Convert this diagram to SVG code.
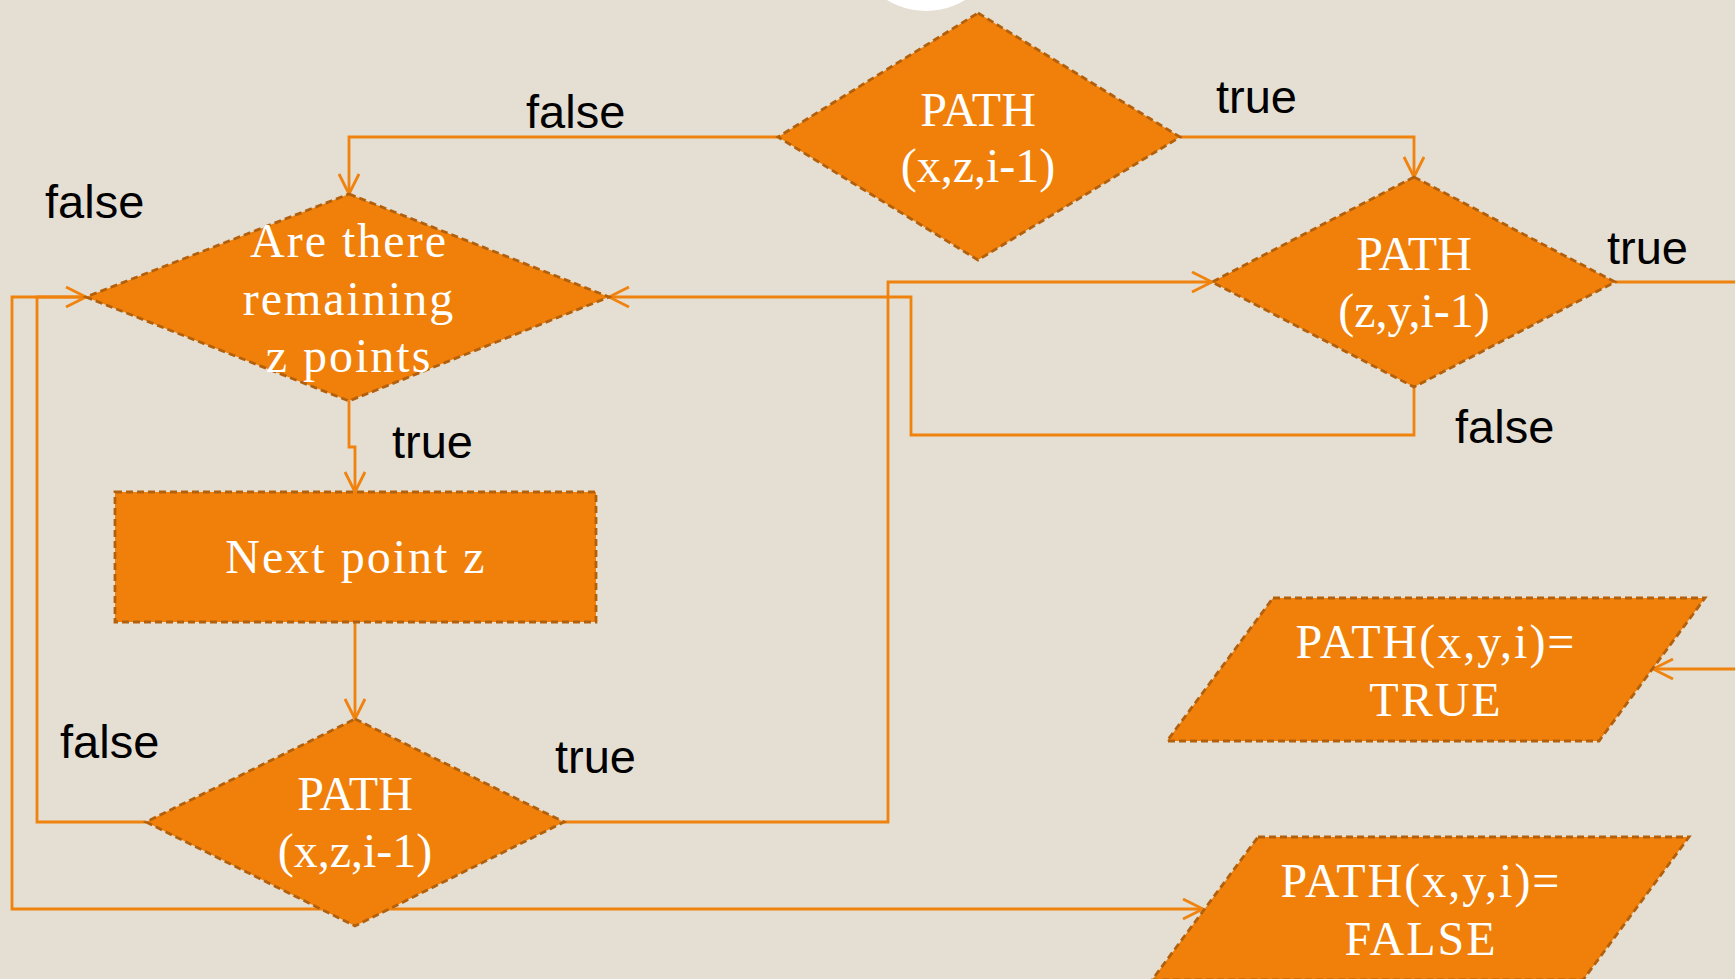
<svg xmlns="http://www.w3.org/2000/svg" width="1735" height="979" viewBox="0 0 1735 979">
<style>
.bg{fill:#E4DED3}
.shape{fill:#F0800A;stroke:#B3600C;stroke-width:2.8;stroke-dasharray:7 4}
.nt{font-family:"Liberation Serif","Times New Roman",serif;font-size:48px;fill:#FFFFFF;text-anchor:middle}
.wide{letter-spacing:2px}
.lbl{font-family:"Liberation Sans",Arial,sans-serif;font-size:47px;fill:#000000}
.edge{fill:none;stroke:#F0820E;stroke-width:2.8}
</style>
<defs>
<marker id="arr" viewBox="0 0 22 22" refX="21" refY="11" markerWidth="22" markerHeight="22" markerUnits="userSpaceOnUse" orient="auto">
<path d="M1,1 L21,11 L1,21" fill="none" stroke="#F0820E" stroke-width="2.8"/>
</marker>
</defs>
<rect class="bg" x="0" y="0" width="1735" height="979"/>
<circle cx="926" cy="-64" r="75" fill="#FFFFFF"/>
<g id="connectors">
<path class="edge" d="M778,137 H349 V194" marker-end="url(#arr)"/>
<path class="edge" d="M1180,137 H1414 V177" marker-end="url(#arr)"/>
<path class="edge" d="M1615,282 H1735"/>
<path class="edge" d="M1414,387 V435 H911 V297 H609" marker-end="url(#arr)"/>
<path class="edge" d="M564,822 H888 V282 H1212" marker-end="url(#arr)"/>
<path class="edge" d="M349,401 V447 H355 V492" marker-end="url(#arr)"/>
<path class="edge" d="M355,622 V719" marker-end="url(#arr)"/>
<path class="edge" d="M146,822 H37 V297 H86" marker-end="url(#arr)"/>
<path class="edge" d="M86,297 H12 V909 H1203" marker-end="url(#arr)"/>
<path class="edge" d="M1735,669 H1653" marker-end="url(#arr)"/>
<text class="lbl" x="526" y="128">false</text>
<text class="lbl" x="1216" y="113">true</text>
<text class="lbl" x="45" y="218">false</text>
<text class="lbl" x="1607" y="264">true</text>
<text class="lbl" x="392" y="458">true</text>
<text class="lbl" x="1455" y="443">false</text>
<text class="lbl" x="60" y="758">false</text>
<text class="lbl" x="555" y="773">true</text>
</g>
<g id="node-path-xz-top">
<polygon class="shape" points="978,13 1180,137 978,260 778,137"/>
<text class="nt" x="978" y="126">PATH</text>
<text class="nt" x="978" y="182">(x,z,i-1)</text>
</g>
<g id="node-remaining">
<polygon class="shape" points="349,194 609,297 349,401 86,297"/>
<text class="nt wide" x="349" y="257">Are there</text>
<text class="nt wide" x="349" y="315">remaining</text>
<text class="nt wide" x="349" y="372">z points</text>
</g>
<g id="node-path-zy">
<polygon class="shape" points="1414,177 1615,282 1414,387 1212,282"/>
<text class="nt" x="1414" y="270">PATH</text>
<text class="nt" x="1414" y="327">(z,y,i-1)</text>
</g>
<g id="node-next">
<rect class="shape" x="115" y="492" width="481" height="130"/>
<text class="nt wide" x="356" y="573">Next point z</text>
</g>
<g id="node-path-xz-bottom">
<polygon class="shape" points="355,719 564,822 355,926 146,822"/>
<text class="nt" x="355" y="810">PATH</text>
<text class="nt" x="355" y="867">(x,z,i-1)</text>
</g>
<g id="node-true">
<polygon class="shape" points="1273,598 1705,598 1599,741 1167,741"/>
<text class="nt wide" x="1436" y="658">PATH(x,y,i)=</text>
<text class="nt wide" x="1436" y="716">TRUE</text>
</g>
<g id="node-false">
<polygon class="shape" points="1258,837 1689,837 1583,980 1152,980"/>
<text class="nt wide" x="1421" y="897">PATH(x,y,i)=</text>
<text class="nt wide" x="1421" y="955">FALSE</text>
</g>
</svg>
